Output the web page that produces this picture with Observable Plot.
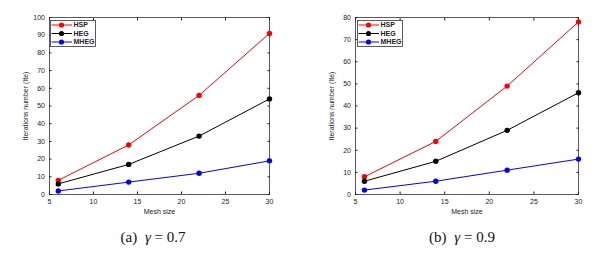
<!DOCTYPE html>
<html><head><meta charset="utf-8">
<script src="https://cdn.jsdelivr.net/npm/d3@7"></script>
<script src="https://cdn.jsdelivr.net/npm/@observablehq/plot@0.6"></script>
<style>
body{margin:0;background:#fff;}
#wrap{position:relative;width:613px;height:253px;background:#fff;overflow:hidden;}
.panel{position:absolute;top:0;}
.cap{position:absolute;font-family:"Liberation Serif","DejaVu Serif","Times New Roman",serif;font-size:15px;line-height:15px;color:#111;transform:translateX(-50%);white-space:nowrap;}
.cap i{margin-left:4px;}
.legend{position:absolute;}
</style></head>
<body><div id="wrap"></div>
<script>
const meshSize = [6, 14, 22, 30];
const seriesNames = ["HSP", "HEG", "MHEG"];
const seriesColors = ["#ff0000", "#000000", "#0000ff"];
// gamma = 0.7
const hspA = [8, 28, 56, 91];
const hegA = [6, 17, 33, 54];
const mhegA = [2, 7, 12, 19];
// gamma = 0.9
const hspB = [8, 24, 49, 78];
const hegB = [6, 15, 29, 46];
const mhegB = [2, 6, 11, 16];
const xTicks = [5, 10, 15, 20, 25, 30];
const yTicksA = [0, 10, 20, 30, 40, 50, 60, 70, 80, 90, 100];
const yTicksB = [0, 10, 20, 30, 40, 50, 60, 70, 80];
const captionTags = ["(a)", "(b)"];
const captionGammas = ["0.7", "0.9"];
const xLabel = "Mesh size";
const yLabel = "Iterations number (Ite)";

const font = '"Liberation Sans", Arial, Helvetica, sans-serif';
const wrap = document.getElementById("wrap");

function makePlot(values, yTicks, width, ml, mr) {
  const rows = seriesNames.flatMap((s, i) => meshSize.map((x, j) => ({series: s, x, y: values[i][j]})));
  return Plot.plot({
    width, height: 215,
    marginLeft: ml, marginRight: mr, marginTop: 17, marginBottom: 21,
    x: {domain: [5, 30]},
    y: {domain: [0, yTicks[yTicks.length - 1]]},
    color: {domain: seriesNames, range: seriesColors},
    style: {fontFamily: font, fontSize: "7px", color: "#222", background: "none", overflow: "visible"},
    marks: [
      Plot.frame({stroke: "#333", strokeWidth: 0.8}),
      Plot.axisX({ticks: xTicks, tickSize: -2.5, tickPadding: 7, label: xLabel, labelAnchor: "center", labelOffset: 19, labelArrow: "none"}),
      Plot.axisX({anchor: "top", ticks: xTicks, tickSize: -2.5, tickFormat: () => "", label: null}),
      Plot.axisY({ticks: yTicks, tickSize: -2.5, tickPadding: 7, label: yLabel, labelAnchor: "center", labelOffset: 26, labelArrow: "none"}),
      Plot.axisY({anchor: "right", ticks: yTicks, tickSize: -2.5, tickFormat: () => "", label: null}),
      Plot.line(rows, {x: "x", y: "y", z: "series", stroke: "series", strokeWidth: 1}),
      Plot.dot(rows, {x: "x", y: "y", fill: "series", r: 2.7})
    ]
  });
}

function makeLegend(left, top) {
  const w = 46, h = 27;
  const svg = d3.create("svg").attr("width", w).attr("height", h).attr("class", "legend")
    .style("left", left + "px").style("top", top + "px");
  svg.append("rect").attr("x", 0.5).attr("y", 0.5).attr("width", w - 1).attr("height", h - 1)
    .attr("fill", "#fff").attr("stroke", "#333").attr("stroke-width", 0.8);
  seriesNames.forEach((s, i) => {
    const y = 5 + i * 8.5;
    svg.append("line").attr("x1", 1.5).attr("x2", 22).attr("y1", y).attr("y2", y)
      .attr("stroke", seriesColors[i]).attr("stroke-width", 1);
    svg.append("circle").attr("cx", 11.5).attr("cy", y).attr("r", 2.6).attr("fill", seriesColors[i]);
    svg.append("text").attr("x", 23.5).attr("y", y).attr("dy", "0.35em")
      .attr("font-family", font).attr("font-size", "7px").attr("font-weight", "bold").attr("fill", "#222").text(s);
  });
  return svg.node();
}

const pA = makePlot([hspA, hegA, mhegA], yTicksA, 300, 49, 31);
pA.classList.add("panel"); pA.style.left = "0px";
wrap.appendChild(pA);
const pB = makePlot([hspB, hegB, mhegB], yTicksB, 313, 55, 35);
pB.classList.add("panel"); pB.style.left = "300px";
wrap.appendChild(pB);

wrap.appendChild(makeLegend(50, 20));
wrap.appendChild(makeLegend(357, 20));

[153, 462].forEach((cx, k) => {
  const d = document.createElement("div");
  d.className = "cap"; d.style.left = cx + "px"; d.style.top = "230px";
  d.append(captionTags[k] + " ");
  const g = document.createElement("i"); g.textContent = "γ";
  d.append(g, " = " + captionGammas[k]);
  wrap.appendChild(d);
});
</script></body></html>
